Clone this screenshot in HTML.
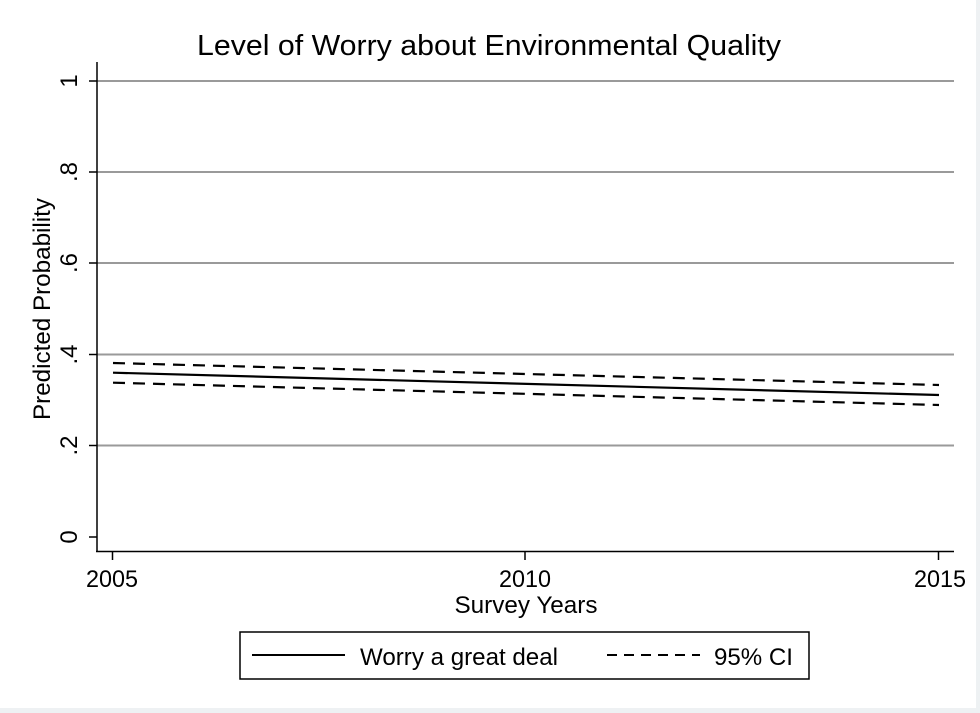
<!DOCTYPE html>
<html><head><meta charset="utf-8"><style>
html,body{margin:0;padding:0;background:#fff;}
svg{display:block;font-family:"Liberation Sans",Arial,sans-serif;}
</style></head><body>
<svg width="980" height="713" viewBox="0 0 980 713" xmlns="http://www.w3.org/2000/svg">
<rect width="980" height="713" fill="#fff"/>
<rect x="976" y="0" width="4" height="713" fill="#eef1f3"/>
<rect x="0" y="708" width="980" height="5" fill="#eef1f3"/>
<text x="489" y="55" font-size="29" text-anchor="middle" textLength="584" lengthAdjust="spacingAndGlyphs">Level of Worry about Environmental Quality</text>
<g stroke="#9a9a9a" stroke-width="2">
<line x1="97" y1="81" x2="954" y2="81"/>
<line x1="97" y1="172" x2="954" y2="172"/>
<line x1="97" y1="263" x2="954" y2="263"/>
<line x1="97" y1="354.5" x2="954" y2="354.5"/>
<line x1="97" y1="445.5" x2="954" y2="445.5"/>
</g>
<g stroke="#000" stroke-width="1.5">
<line x1="97" y1="62" x2="97" y2="552"/>
<line x1="96" y1="551.5" x2="954" y2="551.5"/>
<line x1="89" y1="81" x2="97" y2="81"/>
<line x1="89" y1="172" x2="97" y2="172"/>
<line x1="89" y1="263" x2="97" y2="263"/>
<line x1="89" y1="354.5" x2="97" y2="354.5"/>
<line x1="89" y1="445.5" x2="97" y2="445.5"/>
<line x1="89" y1="537" x2="97" y2="537"/>
<line x1="112.5" y1="552" x2="112.5" y2="560"/>
<line x1="525" y1="552" x2="525" y2="560"/>
<line x1="938.5" y1="552" x2="938.5" y2="560"/>
</g>
<g font-size="24" text-anchor="middle">
<text transform="translate(77,81) rotate(-90)">1</text>
<text transform="translate(77,172) rotate(-90)">.8</text>
<text transform="translate(77,263) rotate(-90)">.6</text>
<text transform="translate(77,354.5) rotate(-90)">.4</text>
<text transform="translate(77,445.5) rotate(-90)">.2</text>
<text transform="translate(77,537) rotate(-90)">0</text>
<text x="112" y="587" textLength="52" lengthAdjust="spacingAndGlyphs">2005</text>
<text x="525" y="587" textLength="52" lengthAdjust="spacingAndGlyphs">2010</text>
<text x="940" y="587" textLength="52" lengthAdjust="spacingAndGlyphs">2015</text>
<text x="526" y="613" textLength="143" lengthAdjust="spacingAndGlyphs">Survey Years</text>
<text transform="translate(50,309) rotate(-90)" textLength="222" lengthAdjust="spacingAndGlyphs">Predicted Probability</text>
</g>
<g stroke="#000" stroke-width="2.2" fill="none">
<line x1="113" y1="372.7" x2="939" y2="395"/>
<line x1="113" y1="363" x2="939" y2="385" stroke-dasharray="12,8"/>
<line x1="113" y1="382.7" x2="939" y2="405" stroke-dasharray="12,8"/>
</g>
<rect x="240" y="632" width="569" height="47" fill="none" stroke="#000" stroke-width="1.5"/>
<line x1="252" y1="655" x2="345" y2="655" stroke="#000" stroke-width="2"/>
<line x1="607" y1="655" x2="700" y2="655" stroke="#000" stroke-width="2" stroke-dasharray="10,7"/>
<text x="360" y="665" font-size="24" textLength="198" lengthAdjust="spacingAndGlyphs">Worry a great deal</text>
<text x="714" y="665" font-size="24" textLength="79" lengthAdjust="spacingAndGlyphs">95% CI</text>
</svg>
</body></html>
